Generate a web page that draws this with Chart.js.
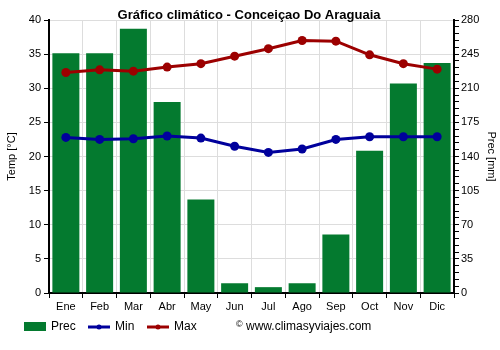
<!DOCTYPE html>
<html>
<head>
<meta charset="utf-8">
<script src="https://cdn.jsdelivr.net/npm/chart.js@4"></script>
<style>
  body { margin: 0; background: #fff; }
</style>
</head>
<body>
<canvas id="myChart" width="500" height="350"></canvas>
<script>
//  data
const months = ['Ene', 'Feb', 'Mar', 'Abr', 'May', 'Jun', 'Jul', 'Ago', 'Sep', 'Oct', 'Nov', 'Dic'];
const prec = [246, 246, 271, 196, 96, 10, 6, 10, 60, 146, 215, 236];
const tMin = [22.8, 22.5, 22.6, 23.0, 22.7, 21.5, 20.6, 21.1, 22.5, 22.9, 22.9, 22.9];
const tMax = [32.3, 32.7, 32.5, 33.1, 33.6, 34.7, 35.8, 37.0, 36.9, 34.9, 33.6, 32.8];
const tempTicks = [0, 5, 10, 15, 20, 25, 30, 35, 40];
const precTicks = [0, 35, 70, 105, 140, 175, 210, 245, 280];

const green = '#047a2f',
    blue = '#00009c',
    red = '#9c0000',
    font = 'Arial, "Liberation Sans", sans-serif';

//  title, legend and watermark drawn by hand
const extras = {
  id: 'extras',
  afterDraw(chart) {
    const c = chart.ctx;
    c.save();
    c.fillStyle = '#000';
    c.font = 'bold 13px ' + font;
    c.textAlign = 'center';
    c.textBaseline = 'middle';
    c.fillText('Gráfico climático - Conceiçao Do Araguaia', 249, 15);

    c.font = '12px ' + font;
    c.textAlign = 'left';
    const ly = 327;
    c.fillStyle = green;
    c.fillRect(24, 322, 22, 9);
    c.fillStyle = '#000';
    c.fillText('Prec', 51, ly);

    [[88, blue, 'Min'], [147, red, 'Max']].forEach(([x, col, txt]) => {
      c.strokeStyle = col;
      c.lineWidth = 3;
      c.beginPath();
      c.moveTo(x, ly);
      c.lineTo(x + 22, ly);
      c.stroke();
      c.fillStyle = col;
      c.beginPath();
      c.arc(x + 11, ly, 2.5, 0, Math.PI * 2);
      c.fill();
      c.fillStyle = '#000';
      c.fillText(txt, x + 27, ly);
    });

    c.font = '9px ' + font;
    c.fillText('©', 236, ly - 2);
    c.font = '12px ' + font;
    c.fillText('www.climasyviajes.com', 246, ly);
    c.restore();
  }
};

const ctx = document.getElementById('myChart');

new Chart(ctx, {
  data: {
    labels: months,
    datasets: [{
      type: 'line',
      label: 'Max',
      data: tMax,
      yAxisID: 'y',
      borderColor: red,
      backgroundColor: red,
      borderWidth: 3,
      pointRadius: 4.5,
      pointBorderWidth: 0,
      order: 0
    }, {
      type: 'line',
      label: 'Min',
      data: tMin,
      yAxisID: 'y',
      borderColor: blue,
      backgroundColor: blue,
      borderWidth: 3,
      pointRadius: 4.5,
      pointBorderWidth: 0,
      order: 1
    }, {
      type: 'bar',
      label: 'Prec',
      data: prec,
      yAxisID: 'y2',
      backgroundColor: green,
      barPercentage: 0.8,
      categoryPercentage: 1,
      order: 2
    }]
  },
  options: {
    responsive: false,
    animation: false,
    layout: { padding: { top: 20, left: 0, right: 0, bottom: 0 } },
    plugins: {
      legend: { display: false },
      title: { display: false },
      tooltip: { enabled: false }
    },
    scales: {
      x: {
        offset: true,
        grid: {
          offset: true,
          color: '#dddddd',
          tickColor: '#000',
          tickLength: 5
        },
        border: { color: '#000', width: 2 },
        ticks: { color: '#000', font: { family: font, size: 11 }, padding: 2 },
        afterFit(s) { s.height = 57; }
      },
      y: {
        position: 'left',
        min: 0,
        max: 40,
        afterBuildTicks(s) { s.ticks = tempTicks.map(v => ({ value: v })); },
        grid: { color: '#dddddd', tickColor: '#000', tickLength: 5 },
        border: { color: '#000', width: 2 },
        ticks: { color: '#000', font: { family: font, size: 11 }, padding: 3 },
        title: {
          display: true,
          text: 'Temp [°C]',
          color: '#000',
          font: { family: font, size: 11 },
          padding: { top: 5, bottom: 0 }
        },
        afterFit(s) { s.width = 49; }
      },
      y2: {
        position: 'right',
        min: 0,
        max: 280,
        ticks: {
          stepSize: 7,
          autoSkip: false,
          color: '#000',
          font: { family: font, size: 11 },
          padding: 2,
          callback: v => precTicks.includes(v) ? v : ''
        },
        grid: { drawOnChartArea: false, tickColor: '#000', tickLength: 5 },
        border: { color: '#000', width: 2 },
        title: {
          display: true,
          text: 'Prec [mm]',
          color: '#000',
          font: { family: font, size: 11 },
          padding: 2
        },
        afterFit(s) { s.width = 46; }
      }
    }
  },
  plugins: [extras]
});
</script>
</body>
</html>
